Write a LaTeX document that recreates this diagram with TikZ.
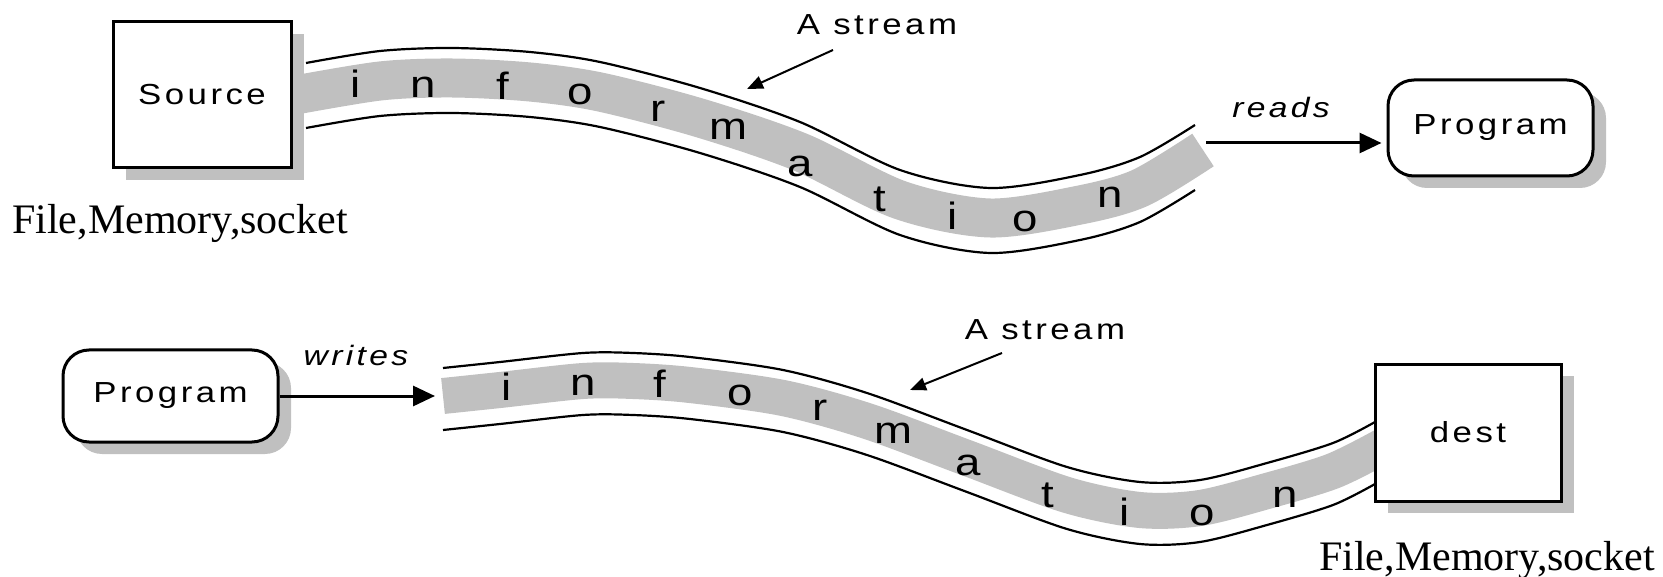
\documentclass[tikz,border=0pt]{standalone}
\usepackage{fontspec}
\usetikzlibrary{arrows.meta,shadows}
\newfontfamily\uifont[FakeStretch=1.2,LetterSpace=12]{Liberation Sans}
\newfontfamily\captionfont{Liberation Serif}
\definecolor{bandgray}{RGB}{192,192,192}

\begin{document}
\begin{tikzpicture}[x=1pt,y=-1pt,
  lbl/.style={font=\uifont\fontsize{29}{29}\selectfont, inner sep=0pt},
  lblit/.style={font=\uifont\itshape\fontsize{28}{28}\selectfont, inner sep=0pt},
  letter/.style={font=\uifont\fontsize{38}{38}\selectfont, inner sep=0pt, anchor=base},
  device/.style={draw=black, line width=3pt, fill=white, inner sep=0pt,
    font=\uifont\fontsize{29}{29}\selectfont,
    drop shadow={shadow xshift=13pt, shadow yshift=-12pt, fill=bandgray, opacity=1}},
  program/.style={device, rounded corners=26pt},
  rim/.style={line width=2.2pt},
  band/.style={draw=bandgray, line width=#1},
  flow/.style={line width=3pt, -{Triangle[length=22pt,width=20pt]}},
  pointer/.style={line width=2pt, -{Triangle[length=16pt,width=13pt]}},
  caption/.style={font=\captionfont\fontsize{42}{42}\selectfont, inner sep=0pt},
]
\useasboundingbox (0,0) rectangle (1663,577);

% ---------- reading: source -> program ----------
\draw[band=39pt] plot[smooth] coordinates {(290,96) (380,81) (452,78) (530,82) (600,92) (700,118) (800,152) (900,200) (990,218) (1080,205) (1140,188) (1203,150)};
\draw[rim] plot[smooth] coordinates {(306,63) (380,51) (452,48) (530,52) (600,62) (700,88) (800,122) (900,170) (990,188) (1080,175) (1140,157) (1195,125)};
\draw[rim] plot[smooth] coordinates {(306,128) (380,116) (452,113) (530,117) (600,127) (700,153) (800,187) (900,235) (990,253) (1080,240) (1140,222) (1195,190)};

\node[device, minimum width=178pt, minimum height=146pt] (src) at (202,95) {Source};
\node[program, minimum width=205pt, minimum height=96pt] (prog1) at (1490.5,128) {Program};

\node[letter] (a1) at (356,98) {i};
\node[letter] (a2) at (423,98) {n};
\node[letter] (a3) at (503,100) {f};
\node[letter] (a4) at (580,105) {o};
\node[letter] (a5) at (658,122) {r};
\node[letter] (a6) at (728,140) {m};
\node[letter] (a7) at (800,177) {a};
\node[letter] (a8) at (880,212) {t};
\node[letter] (a9) at (953,230) {i};
\node[letter] (a10) at (1025,232) {o};
\node[letter] (a11) at (1110,208) {n};

\node[lbl] (st1) at (877,25) {A stream};
\coordinate (p1s) at (833,50);
\coordinate (p1e) at (747,89);
\draw[pointer] (p1s) -- (p1e);

\node[lblit] (rd) at (1281,108) {reads};
\coordinate (rdstart) at (1206,143);
\draw[flow, shorten >=5pt] (rdstart) -- (rdstart -| prog1.west);

\node[caption, anchor=base west] (cap1) at (12,234) {File,Memory,socket};

% ---------- writing: program -> destination ----------
\draw[band=36pt] plot[smooth] coordinates {(443,396) (500,390) (583,381) (633,381) (690,385) (783,398) (867,421) (967,458) (1067,495) (1140,510) (1200,508) (1267,491) (1333,471) (1385,445)};
\draw[rim] plot[smooth] coordinates {(443,368) (500,362) (583,353) (633,353) (690,357) (783,370) (867,393) (967,430) (1067,467) (1140,482) (1200,480) (1267,463) (1333,443) (1375,422)};
\draw[rim] plot[smooth] coordinates {(443,430) (500,424) (583,415) (633,415) (690,419) (783,432) (867,455) (967,492) (1067,529) (1140,544) (1200,542) (1267,525) (1333,505) (1375,484)};

\node[program, minimum width=215pt, minimum height=92pt] (prog2) at (170.5,396) {Program};
\node[device, minimum width=186pt, minimum height=137pt] (dest) at (1468,432.5) {dest};

\node[letter] (b1) at (507,400) {i};
\node[letter] (b2) at (583,395) {n};
\node[letter] (b3) at (660,397) {f};
\node[letter] (b4) at (740,405) {o};
\node[letter] (b5) at (820,420) {r};
\node[letter] (b6) at (893,443) {m};
\node[letter] (b7) at (968,475) {a};
\node[letter] (b8) at (1048,507) {t};
\node[letter] (b9) at (1125,525) {i};
\node[letter] (b10) at (1202,525) {o};
\node[letter] (b11) at (1285,507) {n};

\node[lbl] (st2) at (1045,330) {A stream};
\coordinate (p2s) at (1002,353);
\coordinate (p2e) at (910,390);
\draw[pointer] (p2s) -- (p2e);

\node[lblit] (wr) at (356,355) {writes};
\coordinate (wrend) at (435,396);
\draw[flow] (prog2.east) -- (wrend);

\node[caption, anchor=base east] (cap2) at (1655,570) {File,Memory,socket};
\end{tikzpicture}
\end{document}
